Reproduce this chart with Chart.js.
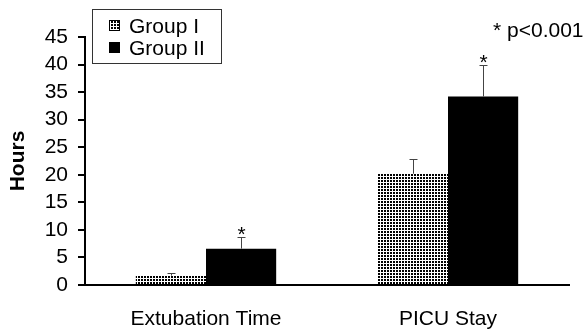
<!DOCTYPE html>
<html><head><meta charset="utf-8">
<script src="https://cdn.jsdelivr.net/npm/chart.js@4/dist/chart.umd.min.js"></script>
<style>html,body{margin:0;padding:0;background:#fff}</style>
</head><body>
<canvas id="c" width="587" height="329"></canvas>
<script>
// ---- data ----
const categories = ['Extubation Time', 'PICU Stay'];
const seriesNames = ['Group I', 'Group II'];
const group1 = [1.7, 20.2];
const group2 = [6.6, 34.2];
const group1Err = [0.4, 2.6];
const group2Err = [2.2, 5.8];
const group1Sig = [false, false];
const group2Sig = [true, true];
const yTicks = [0, 5, 10, 15, 20, 25, 30, 35, 40, 45];
const yTitle = 'Hours';
const noteText = '* p<0.001';

const FONT = 'Liberation Sans, Arial, Helvetica, sans-serif';
const FS = 21;

function gridPattern() {
  const c = document.createElement('canvas');
  c.width = 3; c.height = 3;
  const g = c.getContext('2d');
  g.fillStyle = '#fff'; g.fillRect(0, 0, 3, 3);
  g.fillStyle = '#000'; g.fillRect(0, 0, 2, 2);
  return g.createPattern(c, 'repeat');
}
const pat = gridPattern();

const errors = [group1Err, group2Err];
const sigs = [group1Sig, group2Sig];

const overlay = {
  id: 'overlay',
  afterDatasetsDraw(chart) {
    const ctx = chart.ctx;
    const y = chart.scales.y;
    ctx.save();
    chart.data.datasets.forEach((ds, i) => {
      const meta = chart.getDatasetMeta(i);
      meta.data.forEach((el, j) => {
        const top = y.getPixelForValue(ds.data[j] + errors[i][j]);
        const x = Math.round(el.x) + 0.5;
        ctx.strokeStyle = '#444';
        ctx.lineWidth = 1;
        ctx.beginPath();
        ctx.moveTo(x, el.y);
        ctx.lineTo(x, Math.round(top) + 0.5);
        ctx.moveTo(x - 4, Math.round(top) + 0.5);
        ctx.lineTo(x + 4, Math.round(top) + 0.5);
        ctx.stroke();
        if (sigs[i][j]) {
          ctx.fillStyle = '#000';
          ctx.font = FS + 'px ' + FONT;
          ctx.textAlign = 'center';
          ctx.textBaseline = 'alphabetic';
          ctx.fillText('*', x, top + 4);
        }
      });
    });
    // note
    ctx.fillStyle = '#000';
    ctx.font = FS + 'px ' + FONT;
    ctx.textAlign = 'left';
    ctx.textBaseline = 'alphabetic';
    ctx.fillText(noteText, 493, 37);
    // legend box
    ctx.fillStyle = '#fff';
    ctx.fillRect(92.5, 9.5, 129, 54);
    ctx.strokeStyle = '#333';
    ctx.lineWidth = 1;
    ctx.strokeRect(92.5, 9.5, 129, 54);
    const rows = [33, 55];
    chart.data.datasets.forEach((ds, i) => {
      const by = rows[i];
      ctx.fillStyle = ds.backgroundColor;
      ctx.fillRect(109, by - 13, 11, 11);
      ctx.strokeStyle = '#000';
      ctx.strokeRect(109.5, by - 12.5, 10, 10);
      ctx.fillStyle = '#000';
      ctx.font = FS + 'px ' + FONT;
      ctx.fillText(ds.label, 129, by);
    });
    ctx.restore();
  }
};

new Chart(document.getElementById('c'), {
  type: 'bar',
  data: {
    labels: categories,
    datasets: [
      { label: seriesNames[0], data: group1, backgroundColor: pat, borderWidth: 0 },
      { label: seriesNames[1], data: group2, backgroundColor: '#000', borderWidth: 0 }
    ]
  },
  options: {
    responsive: false,
    animation: false,
    devicePixelRatio: 1,
    categoryPercentage: 0.58,
    barPercentage: 1.0,
    layout: { padding: { top: 37, right: 18, left: 0, bottom: 0 } },
    plugins: { legend: { display: false }, tooltip: { enabled: false } },
    scales: {
      x: {
        grid: { display: false, drawTicks: false },
        border: { display: true, color: '#000', width: 2 },
        ticks: { color: '#000', font: { family: FONT, size: FS }, padding: 22, maxRotation: 0, autoSkip: false },
        afterFit(s) { s.height = 44; }
      },
      y: {
        min: 0, max: 45,
        afterBuildTicks(s) { s.ticks = yTicks.map(v => ({ value: v })); },
        grid: { drawOnChartArea: false, drawTicks: true, tickLength: 7, color: '#000', lineWidth: 2 },
        border: { display: true, color: '#000', width: 2 },
        ticks: { color: '#000', font: { family: FONT, size: FS }, padding: 10, autoSkip: false },
        title: { display: true, text: yTitle, color: '#000', font: { family: FONT, size: FS, weight: 'bold' }, padding: { top: 6, bottom: 0 } },
        afterFit(s) { s.width = 85; }
      }
    }
  },
  plugins: [overlay]
});
</script>
</body></html>
